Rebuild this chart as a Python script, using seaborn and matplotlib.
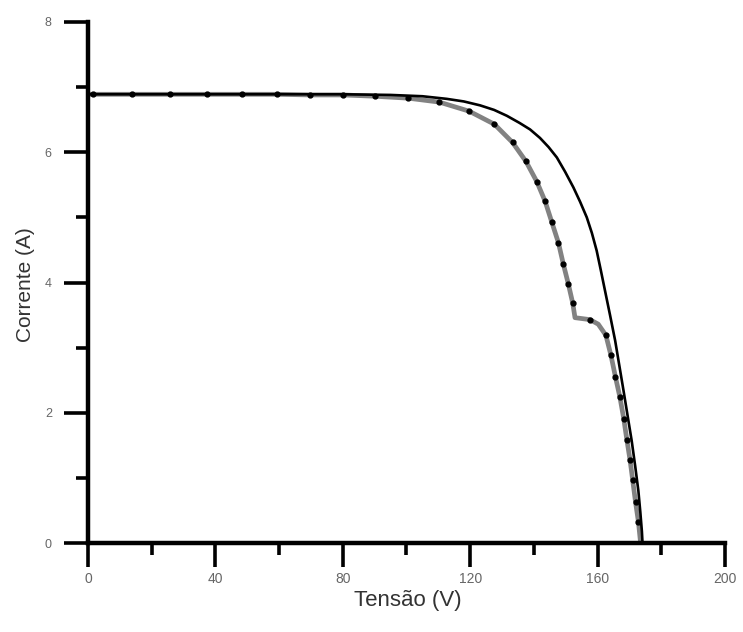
import matplotlib
matplotlib.use("Agg")
import matplotlib.pyplot as plt
import seaborn as sns
import pandas as pd
from matplotlib.ticker import MultipleLocator

# Uniform irradiance curve (solid black)
v_uniform = [0, 60, 80, 95, 105, 112.6, 118, 123.1, 127.5, 131.5, 135.5, 138.8, 141.9,
             144.6, 147.2, 149.8, 152.4, 154.5, 156.6, 158.2, 159.7, 161.0, 162.3, 163.9,
             165.5, 166.8, 168.1, 169.4, 170.7, 171.8, 172.8, 173.4, 173.9, 174.1]
i_uniform = [6.89, 6.89, 6.89, 6.88, 6.86, 6.82, 6.78, 6.72, 6.65, 6.56, 6.45, 6.35, 6.22,
             6.08, 5.92, 5.70, 5.46, 5.24, 5.00, 4.76, 4.49, 4.19, 3.88, 3.50,
             3.11, 2.73, 2.35, 1.96, 1.57, 1.18, 0.80, 0.48, 0.18, 0.0]

# Partial shading curve (gray with black dots)
v_shaded = [0, 1.7, 13.9, 25.7, 37.3, 48.4, 59.2, 69.7, 80.0, 90.1, 100.6, 110.3, 119.7,
            127.6, 133.3, 137.5, 140.9, 143.5, 145.6, 147.7, 149.2, 150.8, 152.2, 152.9,
            157.6, 160.2, 162.6, 164.2, 165.6, 167.0, 168.2, 169.2, 170.2, 171.0, 171.9,
            172.8, 173.5]
i_shaded = [6.89, 6.89, 6.89, 6.89, 6.89, 6.89, 6.89, 6.88, 6.88, 6.86, 6.83, 6.77, 6.63,
            6.43, 6.15, 5.86, 5.55, 5.25, 4.93, 4.61, 4.29, 3.98, 3.68, 3.46,
            3.43, 3.36, 3.19, 2.88, 2.55, 2.24, 1.91, 1.58, 1.27, 0.97, 0.63,
            0.33, 0.0]
no_dot = [0, 23, 25, 36]

x_ticks = [0, 40, 80, 120, 160, 200]
y_ticks = [0, 2, 4, 6, 8]

sns.set_style("white")
plt.rcParams['font.family'] = ['Liberation Sans', 'DejaVu Sans']

fig = plt.figure(figsize=(7.43, 6.32), dpi=100)
ax = fig.add_axes([0.1184, 0.1408, 0.8574, 0.8244])

df_u = pd.DataFrame({"V": v_uniform, "I": i_uniform})
df_s = pd.DataFrame({"V": v_shaded, "I": i_shaded})

sns.lineplot(data=df_s, x="V", y="I", sort=False, estimator=None, ax=ax,
             color="#828282", linewidth=3.4, solid_capstyle="butt",
             solid_joinstyle="round", zorder=2)
sns.lineplot(data=df_u, x="V", y="I", sort=False, estimator=None, ax=ax,
             color="black", linewidth=1.9, solid_joinstyle="round", zorder=3)
dots = df_s.drop(index=no_dot)
ax.plot(dots["V"], dots["I"], linestyle="none", marker="o", markersize=3.5,
        color="black", zorder=4)

ax.set_xlim(0, 200)
ax.set_ylim(0, 8)
ax.set_xticks(x_ticks)
ax.set_yticks(y_ticks)
ax.xaxis.set_minor_locator(MultipleLocator(20))
ax.yaxis.set_minor_locator(MultipleLocator(1))
ax.set_xticklabels([str(t) for t in x_ticks])
ax.set_yticklabels([str(t) for t in y_ticks])

for s in ["top", "right"]:
    ax.spines[s].set_visible(False)
for s in ["left", "bottom"]:
    ax.spines[s].set_linewidth(3.2)
    ax.spines[s].set_color("black")

ax.tick_params(which="both", bottom=True, left=True, top=False, right=False)
ax.tick_params(which="major", direction="out", length=17, width=2.6, color="black",
               labelcolor="#666666")
ax.tick_params(which="minor", direction="out", length=8.5, width=2.6, color="black")
ax.tick_params(axis="y", which="major", pad=9, labelsize=9)
ax.tick_params(axis="x", which="major", pad=4, labelsize=10)
ax.set_xlabel("")
ax.set_ylabel("")

fig.text(0.549, 0.0506, "Tensão (V)", ha="center", va="center", fontsize=16, color="#333333")
fig.text(0.034, 0.549, "Corrente (A)", ha="center", va="center", rotation=90,
         fontsize=15, color="#333333")

fig.savefig("out.png", dpi=100)
